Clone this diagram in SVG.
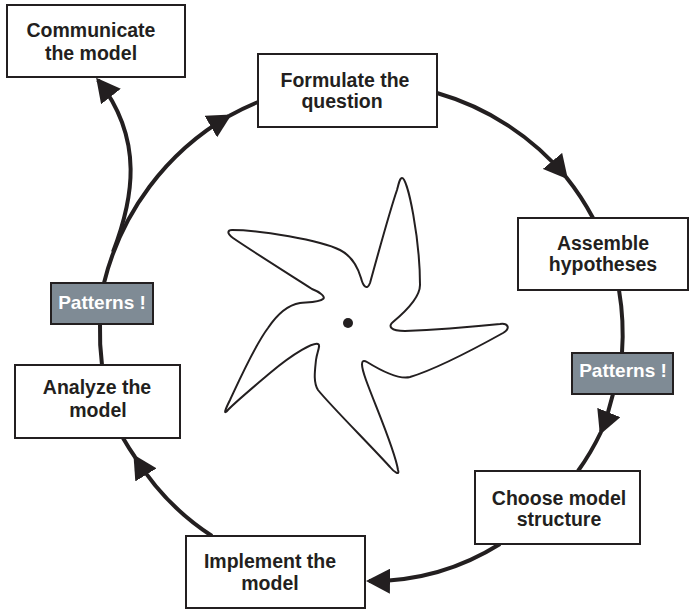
<svg xmlns="http://www.w3.org/2000/svg" width="691" height="610" viewBox="0 0 691 610">
  <style>
    .box { fill: #ffffff; stroke: #231f20; stroke-width: 2; }
    .gbox { fill: #7f8b95; stroke: #231f20; stroke-width: 2; }
    .lbl { font-family: "Liberation Sans", Arial, sans-serif; font-weight: bold; font-size: 19.5px; fill: #231f20; text-anchor: middle; }
    .wlbl { font-family: "Liberation Sans", Arial, sans-serif; font-weight: bold; font-size: 19px; fill: #ffffff; text-anchor: middle; }
    .con { fill: none; stroke: #231f20; stroke-width: 4; }
    .arr { marker-end: url(#ah); }
    .star { fill: #ffffff; stroke: #231f20; stroke-width: 2; }
  </style>
  <defs>
    <marker id="ah" viewBox="0 0 24 25" refX="21" refY="12.5" markerWidth="24" markerHeight="25" markerUnits="userSpaceOnUse" orient="auto">
      <path d="M0,0 L24,12.5 L0,25 Z" fill="#231f20"/>
    </marker>
  </defs>
  <rect width="691" height="610" fill="#ffffff"/>

  <g id="emblem">
    <path class="star" d="M402,178 C408,178 420,240 420,285 C420,298 405,312 393,322 C388,326 390,331 405,331 C430,330 480,326 500,324 C508,323 511,328 503,333 C485,343 440,368 410,377 C398,380 380,370 367,362 C360,358 361,366 366,380 C375,405 395,450 398,470 C400,476 394,472 390,467 C370,445 330,405 318,390 C313,382 315,370 316,360 C317,352 321,345 318,344 C314,342 295,352 270,373 C250,390 232,405 227,411 C223,415 226,408 230,400 C238,383 255,345 268,328 C278,313 288,305 300,303 C312,302 320,302 323,299 C326,297 320,292 312,289 C295,278 255,253 233,238 C226,233 228,230 232,230 C260,230 320,240 340,250 C352,256 358,268 361,278 C363,286 367,291 370,283 C375,265 390,210 397,190 C399,182 400,178 402,178 Z"/>
    <circle cx="348" cy="323" r="5" fill="#231f20"/>
  </g>

  <g id="connectors">
    <path class="con arr" d="M437,93 A262,262 0 0 1 566,177"/>
    <path class="con" d="M566,177 A262,262 0 0 1 593,218"/>
    <path class="con" d="M619,290 A262,262 0 0 1 622,353"/>
    <path class="con arr" d="M613,394 A256,256 0 0 1 601,432"/>
    <path class="con" d="M601,432 A256,256 0 0 1 578,471"/>
    <path class="con arr" d="M500,544 A242,242 0 0 1 369,581"/>
    <path class="con arr" d="M212,536 A250,250 0 0 1 135,457"/>
    <path class="con" d="M135,457 A250,250 0 0 1 123,438"/>
    <path class="con" d="M102,365 A262,262 0 0 1 100,324"/>
    <path class="con arr" d="M104,283 A266,266 0 0 1 229,116"/>
    <path class="con" d="M229,116 A266,266 0 0 1 258,102"/>
    <path class="con arr" d="M113,252 C133,200 145,140 98,80"/>
  </g>

  <g id="communicate">
    <rect class="box" x="7" y="5" width="178" height="72"/>
    <text class="lbl" x="91" y="37">Communicate</text>
    <text class="lbl" x="91" y="60">the model</text>
  </g>
  <g id="formulate">
    <rect class="box" x="258" y="54" width="179" height="73"/>
    <text class="lbl" x="345" y="87">Formulate the</text>
    <text class="lbl" x="342" y="108">question</text>
  </g>
  <g id="assemble">
    <rect class="box" x="518" y="218" width="170" height="72"/>
    <text class="lbl" x="603" y="250">Assemble</text>
    <text class="lbl" x="603" y="271">hypotheses</text>
  </g>
  <g id="patterns-right">
    <rect class="gbox" x="572" y="353" width="101" height="41"/>
    <text class="wlbl" x="623" y="377">Patterns !</text>
  </g>
  <g id="choose">
    <rect class="box" x="475" y="471" width="165" height="73"/>
    <text class="lbl" x="559" y="505">Choose model</text>
    <text class="lbl" x="559" y="526">structure</text>
  </g>
  <g id="implement">
    <rect class="box" x="186" y="536" width="179" height="72"/>
    <text class="lbl" x="270" y="568">Implement the</text>
    <text class="lbl" x="270" y="590">model</text>
  </g>
  <g id="analyze">
    <rect class="box" x="15" y="365" width="165" height="73"/>
    <text class="lbl" x="97" y="394">Analyze the</text>
    <text class="lbl" x="98" y="417">model</text>
  </g>
  <g id="patterns-left">
    <rect class="gbox" x="51" y="283" width="102" height="41"/>
    <text class="wlbl" x="102" y="309">Patterns !</text>
  </g>
</svg>
